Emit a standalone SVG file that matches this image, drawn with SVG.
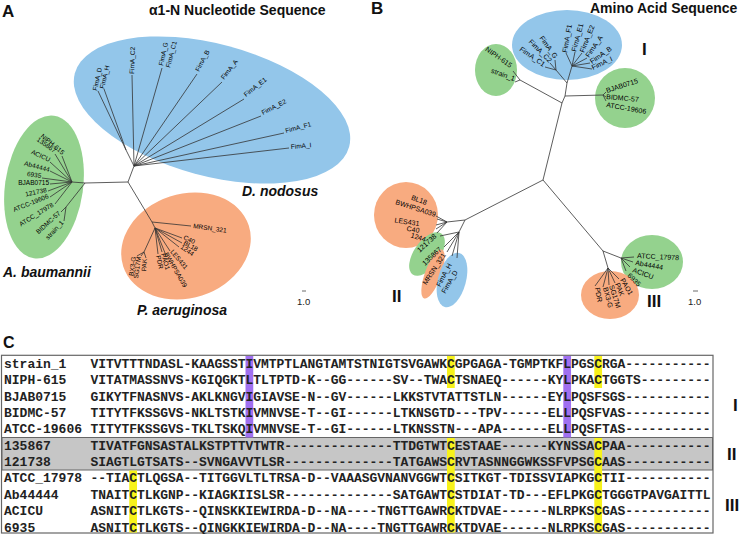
<svg xmlns="http://www.w3.org/2000/svg" width="745" height="534" viewBox="0 0 745 534">
<style>
.ttl{font-family:"Liberation Sans",Arial,sans-serif;font-weight:bold;fill:#111}
.sp{font-family:"Liberation Sans",Arial,sans-serif;font-weight:bold;font-style:italic;font-size:14px;fill:#111}
.lf{font-family:"Liberation Sans",Arial,sans-serif;font-size:6.5px;fill:#000}
.lfb{font-family:"Liberation Sans",Arial,sans-serif;font-size:7px;fill:#000}
.sc{font-family:"Liberation Sans",Arial,sans-serif;font-size:9.5px;fill:#222}
.edge{fill:none;stroke:#333;stroke-width:0.8}
.blue{fill:#93c6ea}.green{fill:#94d28e}.orange{fill:#f8ab80}
.mono{font-family:"Liberation Mono","Courier New",monospace;font-size:13px;font-weight:bold;fill:#222}
.grp{font-family:"Liberation Sans",Arial,sans-serif;font-weight:bold;font-size:17px;fill:#111}
.hy{fill:#f7f21a}.hp{fill:#a070f0}
</style>

<!-- ============ PANEL A ============ -->
<text class="ttl" x="2" y="17" font-size="17">A</text>
<text class="ttl" x="149" y="15" font-size="14">α1-N Nucleotide Sequence</text>

<g id="A-clusters">
<ellipse class="blue" cx="212" cy="110" rx="142" ry="66" transform="rotate(15 212 110)"/>
<ellipse class="green" cx="44" cy="187" rx="39" ry="72" transform="rotate(8 44 187)"/>
<ellipse class="orange" cx="186" cy="246" rx="66" ry="52" transform="rotate(-18 186 246)"/>
</g>

<g id="A-connectors">
<path class="edge" d="M128,182 L85,183 M85,183 L72,182 M85,183 L66,207 L61,212 M66,207 L64,221
M72,182 L62,156 M72,182 L55,154 M72,182 L50,162 M72,182 L50,171 M72,182 L42,178 M72,182 L50,184 M72,182 L48,191 M72,182 L50,197 M72,182 L55,204
M128,182 L134,166
M134,166 L126,150 L104,89 M126,150 L98,91 M134,166 L132,75 M134,166 L162,68 M134,166 L197,74 M134,166 L222,82 M134,166 L244,99 M134,166 L261,116 M134,166 L284,133 M134,166 L289,148
M128,182 L152,222 L191,226 M152,222 L155,228 L144,252 M144,252 L137,256 M144,252 L141,256 M144,252 L146,258 M155,228 L158,254 M155,228 L162,252 M155,228 L182,238 M155,228 L182,243 M155,228 L179,247 M155,228 L170,251 M155,228 L165,253"/>
</g>

<g id="A-blue-labels">
<text class="lf" transform="translate(97,91) rotate(-78)">FimA_D</text>
<text class="lf" transform="translate(104,89) rotate(-76)">FimA_H</text>
<text class="lf" transform="translate(134,74) rotate(-88)">FimA_C2</text>
<text class="lf" transform="translate(163,66) rotate(-78)">FimA_G</text>
<text class="lf" transform="translate(170,68) rotate(-75)">FimA_C1</text>
<text class="lf" transform="translate(199,72) rotate(-62)">FimA_B</text>
<text class="lf" transform="translate(224,80) rotate(-52)">FimA_A</text>
<text class="lf" transform="translate(246,97) rotate(-38)">FimA_E1</text>
<text class="lf" transform="translate(263,115) rotate(-27)">FimA_E2</text>
<text class="lf" transform="translate(286,133) rotate(-15)">FimA_F1</text>
<text class="lf" transform="translate(291,149) rotate(-5)">FimA_I</text>
</g>

<g id="A-green-labels" text-anchor="end">
<text class="lf" transform="translate(62,155) rotate(40)">NIPH-615</text>
<text class="lf" transform="translate(54,153) rotate(35)">135867</text>
<text class="lf" transform="translate(49,162) rotate(25)">ACICU</text>
<text class="lf" transform="translate(49,172) rotate(15)">Ab44444</text>
<text class="lf" transform="translate(41,178) rotate(8)">6935</text>
<text class="lf" transform="translate(49,185) rotate(0)">BJAB0715</text>
<text class="lf" transform="translate(47,192) rotate(-12)">121738</text>
<text class="lf" transform="translate(49,198) rotate(-22)">ATCC-19606</text>
<text class="lf" transform="translate(54,206) rotate(-32)">ATCC_17978</text>
<text class="lf" transform="translate(61,214) rotate(-42)">BIDMC-57</text>
<text class="lf" transform="translate(64,223) rotate(-47)">strain_1</text>
</g>

<g id="A-orange-labels">
<text class="lf" transform="translate(193,228) rotate(8)">MRSN_321</text>
<text class="lf" text-anchor="end" transform="translate(136,257) rotate(-82)">BX3-G</text>
<text class="lf" text-anchor="end" transform="translate(141,257) rotate(-82)">SG17M</text>
<text class="lf" text-anchor="end" transform="translate(147,259) rotate(-85)">PAK</text>
<text class="lf" transform="translate(156,256) rotate(78)">PDR</text>
<text class="lf" transform="translate(161,254) rotate(74)">PAO1</text>
<text class="lf" transform="translate(164,254) rotate(60)">BWHPSA039</text>
<text class="lf" transform="translate(170,252) rotate(50)">LES431</text>
<text class="lf" transform="translate(180,248) rotate(35)">1244</text>
<text class="lf" transform="translate(183,244) rotate(30)">BL18</text>
<text class="lf" transform="translate(183,239) rotate(25)">C40</text>
</g>

<g id="A-species">
<text class="sp" x="242" y="196">D. nodosus</text>
<text class="sp" x="3" y="277">A. baumannii</text>
<text class="sp" x="137" y="315">P. aeruginosa</text>
</g>
<g id="A-scale">
<line x1="302" y1="291" x2="306" y2="291" stroke="#444" stroke-width="0.8"/>
<text class="sc" x="297" y="305">1.0</text>
</g>

<!-- ============ PANEL B ============ -->
<text class="ttl" x="371" y="14" font-size="17">B</text>
<text class="ttl" x="590" y="13" font-size="14">Amino Acid Sequence</text>

<g id="B-clusters">
<ellipse class="blue" cx="567" cy="45" rx="55" ry="35"/>
<ellipse class="green" cx="496" cy="70" rx="21" ry="26"/>
<ellipse class="green" cx="625" cy="98" rx="30" ry="30"/>
<ellipse class="orange" cx="406" cy="215" rx="32" ry="33"/>
<ellipse class="green" cx="427" cy="254" rx="25" ry="13" transform="rotate(-55 427 254)"/>
<ellipse class="orange" cx="433" cy="274" rx="26" ry="8" transform="rotate(-70 433 274)"/>
<ellipse class="blue" cx="452" cy="280" rx="14" ry="28" transform="rotate(15 452 280)"/>
<ellipse class="green" cx="652" cy="262" rx="31" ry="27"/>
<ellipse class="orange" cx="610" cy="295" rx="29" ry="24"/>
</g>

<g id="B-connectors">
<path class="edge" d="M562,103 L520,80 L515,82 M520,80 L513,71
M562,103 L565,96 L603,95 L606,92 M603,95 L606,97 M603,95 L606,101
M565,96 L567,83 L556,70 L545,67 M556,70 L550,63 M556,70 L555,60
M567,83 L572,66 L566,53 M572,66 L575,52 M572,66 L582,53 M572,66 L587,58 M572,66 L590,63 M572,66 L592,69
M562,103 L543,180 L603,251 L621,258 L634,257 M621,258 L633,262 M621,258 L630,267 M621,258 L626,271
M603,251 L608,268 L595,286 M608,268 L603,287 M608,268 L609,285 M608,268 L615,283 M608,268 L619,279
M543,180 L465,220 L447,222 L436,216 M447,222 L437,219 M447,222 L436,225 M447,222 L436,229 M447,222 L437,233
M465,220 L459,232 L440,236 M459,232 L444,247 M459,232 L447,252 M459,232 L452,256 M459,232 L457,258"/>
</g>

<g id="B-labels-I">
<text class="lfb" text-anchor="end" transform="translate(510,68) rotate(35)">NIPH-615</text>
<text class="lfb" text-anchor="end" transform="translate(514,81) rotate(20)">strain_1</text>
<text class="lfb" text-anchor="end" transform="translate(543,67) rotate(35)">FimA_C1</text>
<text class="lfb" text-anchor="end" transform="translate(549,63) rotate(45)">FimA_C2</text>
<text class="lfb" text-anchor="end" transform="translate(554,59) rotate(55)">FimA_G</text>
<text class="lfb" transform="translate(567,53) rotate(-80)">FimA_F1</text>
<text class="lfb" transform="translate(576,52) rotate(-75)">FimA_E1</text>
<text class="lfb" transform="translate(584,53) rotate(-68)">FimA_E2</text>
<text class="lfb" transform="translate(589,58) rotate(-55)">FimA_A</text>
<text class="lfb" transform="translate(592,64) rotate(-35)">FimA_B</text>
<text class="lfb" transform="translate(593,70) rotate(-25)">FimA_I</text>
<text class="lfb" transform="translate(607,93) rotate(-18)">BJAB0715</text>
<text class="lfb" transform="translate(606,99) rotate(5)">BIDMC-57</text>
<text class="lfb" transform="translate(606,107) rotate(10)">ATCC-19606</text>
</g>

<g id="B-labels-II" text-anchor="end">
<text class="lfb" transform="translate(426,205) rotate(20)">BL18</text>
<text class="lfb" transform="translate(435,217) rotate(18)">BWHPSA039</text>
<text class="lfb" transform="translate(419,226) rotate(8)">LES431</text>
<text class="lfb" transform="translate(419,233) rotate(10)">C40</text>
<text class="lfb" transform="translate(425,242) rotate(18)">1244</text>
<text class="lfb" transform="translate(437,237) rotate(-42)">121738</text>
<text class="lfb" transform="translate(442,250) rotate(-43)">135867</text>
<text class="lfb" transform="translate(446,255) rotate(-57)">MRSN_321</text>
<text class="lfb" transform="translate(452,265) rotate(-62)">FimA_H</text>
<text class="lfb" transform="translate(458,272) rotate(-60)">FimA_D</text>
</g>

<g id="B-labels-III">
<text class="lfb" transform="translate(637,258) rotate(3)">ATCC_17978</text>
<text class="lfb" transform="translate(635,265) rotate(10)">Ab44444</text>
<text class="lfb" transform="translate(632,272) rotate(20)">ACICU</text>
<text class="lfb" transform="translate(627,276) rotate(45)">6935</text>
<text class="lfb" transform="translate(620,280) rotate(60)">PAO1</text>
<text class="lfb" transform="translate(615,284) rotate(68)">PAK</text>
<text class="lfb" transform="translate(609,286) rotate(72)">SG17M</text>
<text class="lfb" transform="translate(603,288) rotate(75)">BX3-G</text>
<text class="lfb" transform="translate(595,288) rotate(80)">PDR</text>
</g>

<g id="B-group-labels">
<text class="grp" x="642" y="55">I</text>
<text class="grp" x="392" y="302">II</text>
<text class="grp" x="647" y="307">III</text>
</g>
<g id="B-scale">
<line x1="693" y1="291" x2="698" y2="291" stroke="#444" stroke-width="0.8"/>
<text class="sc" x="688" y="305">1.0</text>
</g>

<!-- ============ PANEL C ============ -->
<text class="ttl" x="3" y="348" font-size="16">C</text>
<g id="C-alignment">
<rect x="1.5" y="355.3" width="711.5" height="177.7" fill="#fff" stroke="#666" stroke-width="1.2"/>
<rect x="2" y="437.5" width="710.5" height="32.5" fill="#c6c6c6" stroke="#666" stroke-width="1"/>
<rect class="hp" x="245.5" y="356" width="7.75" height="81.5"/>
<rect class="hp" x="563.3" y="356" width="7.75" height="81.5"/>
<rect class="hy" x="447" y="356" width="7.75" height="32"/>
<rect class="hy" x="594.3" y="356" width="7.75" height="32"/>
<rect class="hy" x="447" y="438" width="7.75" height="94.5"/>
<rect class="hy" x="594.3" y="438" width="7.75" height="94.5"/>
<rect class="hy" x="129.25" y="470.5" width="7.75" height="62"/>
<g class="mono">
<text x="4" y="368">strain_1</text>
<text x="4" y="384.35">NIPH-615</text>
<text x="4" y="400.7">BJAB0715</text>
<text x="4" y="417.05">BIDMC-57</text>
<text x="4" y="433.4">ATCC-19606</text>
<text x="4" y="449.75">135867</text>
<text x="4" y="466.1">121738</text>
<text x="4" y="482.45">ATCC_17978</text>
<text x="4" y="498.8">Ab44444</text>
<text x="4" y="515.15">ACICU</text>
<text x="4" y="531.5">6935</text>
</g>
<g class="mono">
<text x="90.5" y="368" textLength="620" lengthAdjust="spacing">VITVTTTNDASL-KAAGSSTIVMTPTLANGTAMTSTNIGTSVGAWKCGPGAGA-TGMPTKFLPGSCRGA-----------</text>
<text x="90.5" y="384.35" textLength="620" lengthAdjust="spacing">VITATMASSNVS-KGIQGKTLTLTPTD-K--GG------SV--TWACTSNAEQ------KYLPKACTGGTS---------</text>
<text x="90.5" y="400.7" textLength="620" lengthAdjust="spacing">GIKYTFNASNVS-AKLKNGVIGIAVSE-N--GV------LKKSTVTATTSTLN------EYLPQSFSGS-----------</text>
<text x="90.5" y="417.05" textLength="620" lengthAdjust="spacing">TITYTFKSSGVS-NKLTSTKIVMNVSE-T--GI------LTKNSGTD---TPV------ELLPQSFVAS-----------</text>
<text x="90.5" y="433.4" textLength="620" lengthAdjust="spacing">TITYTFKSSGVS-TKLTSKQIVMNVSE-T--GI------LTKNSSTN---APA------ELLPQSFTAS-----------</text>
<text x="90.5" y="449.75" textLength="620" lengthAdjust="spacing">TIVATFGNSASTALKSTPTTVTWTR--------------TTDGTWTCESTAAE------KYNSSACPAA-----------</text>
<text x="90.5" y="466.1" textLength="620" lengthAdjust="spacing">SIAGTLGTSATS--SVNGAVVTLSR--------------TATGAWSCRVTASNNGGWKSSFVPSGCAAS-----------</text>
<text x="90.5" y="482.45" textLength="620" lengthAdjust="spacing">--TIACTLQGSA--TITGGVLTLTRSA-D--VAAASGVNANVGGWTCSITKGT-TDISSVIAPKGCTII-----------</text>
<text x="90.5" y="498.8" textLength="620" lengthAdjust="spacing">TNAITCTLKGNP--KIAGKIISLSR--------------SATGAWTCSTDIAT-TD---EFLPKGCTGGGTPAVGAITTL</text>
<text x="90.5" y="515.15" textLength="620" lengthAdjust="spacing">ASNITCTLKGTS--QINSKKIEWIRDA-D--NA----TNGTTGAWRCKTDVAE------NLRPKSCGAS-----------</text>
<text x="90.5" y="531.5" textLength="620" lengthAdjust="spacing">ASNITCTLKGTS--QINGKKIEWIRDA-D--NA----TNGTTGAWRCKTDVAE------NLRPKSCGAS-----------</text>
</g>
</g>
<g id="C-group-labels">
<text class="grp" x="733" y="411">I</text>
<text class="grp" x="727" y="460">II</text>
<text class="grp" x="725" y="511">III</text>
</g>
</svg>
